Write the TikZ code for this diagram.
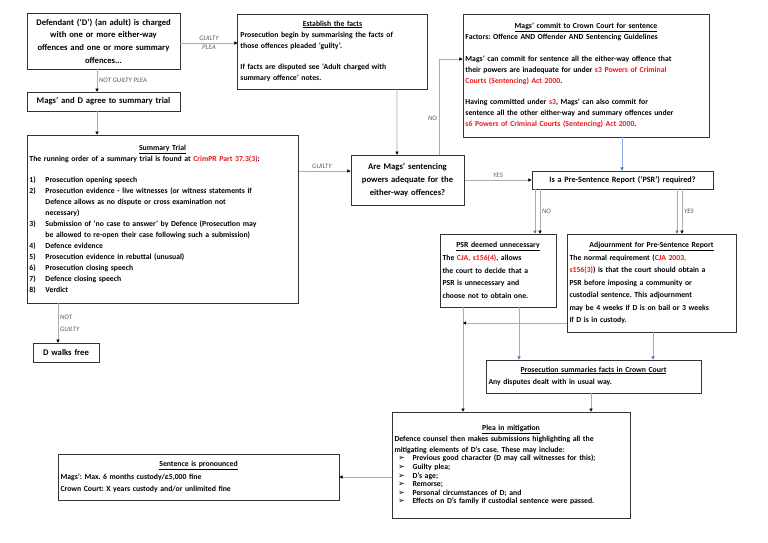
\documentclass[tikz,border=0pt]{standalone}
\usepackage{fontspec}
\setmainfont{Carlito}
\newfontfamily\symfont{DejaVu Sans}
\usepackage{tikz}
\usetikzlibrary{arrows.meta}
\usetikzlibrary{calc}
\frenchspacing
\definecolor{actred}{RGB}{232,24,24}
\definecolor{linegrey}{RGB}{172,172,172}
\definecolor{lineblue}{RGB}{140,176,226}
\definecolor{tipblue}{RGB}{72,122,192}
\newcommand{\act}[1]{\textcolor{actred}{#1}}
\newcommand{\boxtitle}[1]{\hfill\underline{#1}\hfill\null}
\newcommand{\numitem}[1]{\makebox[6.2mm][l]{#1}}
\newcommand{\bull}{\makebox[7mm][l]{\hspace{1.4mm}{\symfont\fontsize{9}{9}\selectfont ➢}}}
\tikzset{
 box/.style={draw=black!80, line width=0.8pt, inner xsep=1mm, inner ysep=0.4mm, align=left, font=\bfseries\fontsize{8.5}{12}\selectfont},
 bigbox/.style={box, align=center, font=\bfseries\fontsize{9.5}{13.9}\selectfont},
 flow/.style={draw=linegrey, line width=0.6pt, -{Triangle[black, length=3.4pt, width=3.6pt]}},
 blueflow/.style={draw=lineblue, line width=0.6pt, -{Triangle[tipblue, length=3.4pt, width=3.6pt]}},
 lbl/.style={font=\itshape\fontsize{7.5}{13}\selectfont, text=black!65, inner sep=2pt}
}

\begin{document}
\begin{tikzpicture}[x=0.3867mm, y=-0.3867mm]
\useasboundingbox[fill=white] (0,0) rectangle (768,543);

% plea and trial
\node[bigbox, text width=57.2mm, minimum height=21.7mm] (defendant) at (103.5,41) {Defendant (‘D’) (an adult) is charged\\ with one or more either-way\\ offences and one or more summary\\ offences...};
\node[bigbox, text width=57.2mm, minimum height=7.3mm] (agree) at (103.5,101.5) {Mags’ and D agree to summary trial};
\node[box, text width=102.9mm, minimum height=65mm] (trial) at (162.5,219) {\boxtitle{Summary Trial}\\
The running order of a summary trial is found at \act{CrimPR Part 37.3(3)}:\\[12pt]
\numitem{1)}Prosecution opening speech\\
\numitem{2)}Prosecution evidence - live witnesses (or witness statements if\\
\numitem{}Defence allows as no dispute or cross examination not\\
\numitem{}necessary)\\
\numitem{3)}Submission of ‘no case to answer’ by Defence (Prosecution may\\
\numitem{}be allowed to re-open their case following such a submission)\\
\numitem{4)}Defence evidence\\
\numitem{5)}Prosecution evidence in rebuttal (unusual)\\
\numitem{6)}Prosecution closing speech\\
\numitem{7)}Defence closing speech\\
\numitem{8)}Verdict};
\node[bigbox, text width=23.6mm, minimum height=7.3mm] (free) at (66,352.5) {D walks free};

% sentencing
\node[box, text width=71.2mm, minimum height=29mm] (facts) at (332.5,51.5) {\boxtitle{Establish the facts}\\
Prosecution begin by summarising the facts of\\
those offences pleaded ‘guilty’.\\[12pt]
If facts are disputed see ‘Adult charged with\\
summary offence’ notes.};
\node[box, text width=93.2mm, minimum height=47.6mm] (commit) at (586,75.5) {\boxtitle{Mags’ commit to Crown Court for sentence}\\
Factors: Offence AND Offender AND Sentencing Guidelines\\[12pt]
Mags’ can commit for sentence all the either-way offence that\\
their powers are inadequate for under \act{s3 Powers of Criminal}\\
\act{Courts (Sentencing) Act 2000}.\\[12pt]
Having committed under \act{s3}, Mags’ can also commit for\\
sentence all the other either-way and summary offences under\\
\act{s6 Powers of Criminal Courts (Sentencing) Act 2000}.};
\node[bigbox, text width=41.8mm, minimum height=19.3mm] (adequate) at (407.5,180) {Are Mags’ sentencing\\ powers adequate for the\\ either-way offences?};
\node[bigbox, font=\bfseries\fontsize{9}{12}\selectfont, text width=68.1mm, minimum height=7mm] (psrq) at (622.5,180) {Is a Pre-Sentence Report (‘PSR’) required?};
\node[box, font=\bfseries\fontsize{8.5}{13.9}\selectfont, text width=42.9mm, minimum height=28.2mm] (psrno) at (498,270.5) {\boxtitle{PSR deemed unnecessary}\\
The \act{CJA, s156(4)}, allows\\
the court to decide that a\\
PSR is unnecessary and\\
choose not to obtain one.};
\node[box, font=\bfseries\fontsize{8.5}{13.7}\selectfont, text width=63.4mm, minimum height=37.9mm] (adjourn) at (651.5,283) {\boxtitle{Adjournment for Pre-Sentence Report}\\
The normal requirement (\act{CJA 2003,}\\
\act{s156(3)}) is that the court should obtain a\\
PSR before imposing a community or\\
custodial sentence. This adjournment\\
may be 4 weeks if D is on bail or 3 weeks\\
if D is in custody.};
\node[box, text width=81.2mm, minimum height=12.8mm] (crown) at (593.5,376.5) {\boxtitle{Prosecution summaries facts in Crown Court}\\[2pt]
Any disputes dealt with in usual way.};
\node[box, text width=90.1mm, minimum height=41mm] (mitig) at (511,465) {\boxtitle{Plea in mitigation}\\
Defence counsel then makes submissions highlighting all the\\
mitigating elements of D’s case. These may include:\\[-2.5pt]
\bull Previous good character (D may call witnesses for this);\\[-2.5pt]
\bull Guilty plea;\\[-2.5pt]
\bull D’s age;\\[-2.5pt]
\bull Remorse;\\[-2.5pt]
\bull Personal circumstances of D; and\\[-2.5pt]
\bull Effects on D’s family if custodial sentence were passed.};
\node[box, font=\bfseries\fontsize{8.5}{13.7}\selectfont, text width=106.7mm, minimum height=17.8mm] (sentence) at (198.5,477) {\boxtitle{Sentence is pronounced}\\
Mags’: Max. 6 months custody/£5,000 fine\\
Crown Court: X years custody and/or unlimited fine};

% connectors
\coordinate (g1) at ($(defendant.east)+(0,2)$);
\draw[flow] (g1) -- (g1 -| facts.west) node[lbl, midway, above] {GUILTY} node[lbl, midway, below] {PLEA};
\draw[flow] ($(defendant.south)+(-6.5,0)$) -- ($(agree.north)+(-6.5,0)$) node[lbl, midway, right] {NOT GUILTY PLEA};
\draw[flow] ($(agree.south)+(-6.5,0)$) -- ($(trial.north)+(-65.5,0)$);
\draw[flow] ($(trial.east)+(0,-48)$) -- ($(adequate.west)+(0,-9)$) node[lbl, pos=.45, above] {GUILTY};
\draw[flow] ($(trial.south)+(-104.5,0)$) -- ($(free.north)+(-8,0)$) node[lbl, midway, right, align=left] {NOT\\ GUILTY};
\draw[flow] ($(facts.south)+(64.5,0)$) -- ($(adequate.north)+(-10.5,0)$);
\draw[flow] ($(adequate.north)+(31.5,0)$) |- ($(commit.west)+(0,-16.5)$) node[lbl, pos=.19, left] {NO};
\draw[flow] (adequate.east) -- (psrq.west) node[lbl, midway, above] {YES};
\draw[blueflow] ($(commit.south)+(36,0)$) -- ($(psrq.north)+(-0.5,0)$);
\draw[blueflow] ($(psrq.south)+(-87.5,0)$) -- ($(psrno.north)+(37,0)$);
\draw[flow] ($(psrq.south)+(-82.5,0)$) -- ($(psrno.north)+(42,0)$) node[lbl, midway, right] {NO};
\draw[blueflow] ($(psrq.south)+(54.5,0)$) -- ($(adjourn.north)+(25.5,0)$);
\draw[flow] ($(psrq.south)+(59.5,0)$) -- ($(adjourn.north)+(30.5,0)$) node[lbl, midway, right] {YES};
\coordinate (drop) at ($(psrno.south)+(-35,0)$);
\draw[flow] (drop) -- ($(mitig.north)+(-48,0)$);
\coordinate (adjl) at ($(adjourn.west)+(0,40)$);
\draw[flow] (adjl) -- (adjl -| drop);
\draw[blueflow] ($(psrno.south)+(21,0)$) -- ($(crown.north)+(-74.5,0)$);
\draw[blueflow] ($(adjourn.south)+(1.5,0)$) -- ($(crown.north)+(59.5,0)$);
\draw[flow] ($(crown.south)+(-2.5,0)$) -- ($(mitig.north)+(80,0)$);
\draw[flow] ($(mitig.west)+(0,12)$) -- (sentence.east);
\end{tikzpicture}
\end{document}
